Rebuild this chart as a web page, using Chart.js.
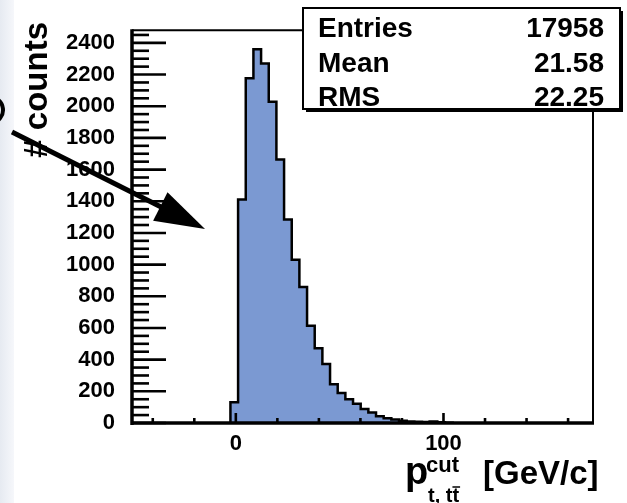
<!DOCTYPE html>
<html>
<head>
<meta charset="utf-8">
<script src="https://cdn.jsdelivr.net/npm/chart.js@4.4.1/dist/chart.umd.min.js"></script>
<style>
  html, body { margin: 0; padding: 0; background: #fff; }
  #wrap { width: 627px; height: 503px; }
</style>
</head>
<body>
<div id="wrap"><canvas id="hist" width="627" height="503"></canvas></div>
<script>
// --- histogram: p_t cut of the t-tbar system [GeV/c] ---
const binLow = -2.6;
const binWidth = 3.69;
const binCounts = [131, 1411, 2177, 2360, 2270, 2028, 1663, 1285, 1030, 858,
                   614, 472, 372, 245, 190, 150, 122, 89, 66, 42,
                   30, 22, 14, 10, 8, 6, 10, 4, 2];

// --- axes ---
const xRange = [-50, 172];
const yRange = [0, 2480];
const xLabeled = [0, 100];
const yLabelStep = 200;

// --- stats box ---
const statNames = ['Entries', 'Mean', 'RMS'];
const statValues = ['17958', '21.58', '22.25'];

const FONT = "'Liberation Sans', Arial, sans-serif";

// step outline built from the bins (left edge of each bin)
const stepPoints = [{ x: binLow, y: 0 }];
binCounts.forEach((c, i) => stepPoints.push({ x: binLow + i * binWidth, y: c }));
stepPoints.push({ x: binLow + binCounts.length * binWidth, y: 0 });

function isLabeledX(v) {
    return xLabeled.some(l => Math.abs(l - v) < 1e-6);
}

function line(ctx, x1, y1, x2, y2) {
    ctx.beginPath();
    ctx.moveTo(x1, y1);
    ctx.lineTo(x2, y2);
    ctx.stroke();
}

const rootStyle = {
    id: 'rootStyle',
    beforeDraw(chart) {
        const ctx = chart.ctx;
        ctx.save();
        ctx.fillStyle = '#fff';
        ctx.fillRect(0, 0, chart.width, chart.height);
        // slide background on the left edge
        const g = ctx.createLinearGradient(0, 0, 16, 0);
        g.addColorStop(0, '#e6eaf1');
        g.addColorStop(1, '#f8f9fc');
        ctx.fillStyle = g;
        ctx.fillRect(0, 0, 14, chart.height);
        ctx.restore();
    },
    afterDatasetsDraw(chart) {
        const ctx = chart.ctx;
        const { left, right, top, bottom } = chart.chartArea;
        const xs = chart.scales.x, ys = chart.scales.y;
        ctx.save();
        ctx.strokeStyle = '#000';
        ctx.lineCap = 'butt';

        // frame top + right
        ctx.lineWidth = 2;
        line(ctx, left, top, right, top);
        line(ctx, right, top, right, bottom);

        // ticks (inside the frame)
        ctx.lineWidth = 2.6;
        ys.ticks.forEach(t => {
            const y = ys.getPixelForValue(t.value);
            const len = t.value % yLabelStep === 0 ? 34 : 17;
            line(ctx, left, y, left + len, y);
        });
        xs.ticks.forEach(t => {
            const x = xs.getPixelForValue(t.value);
            const len = isLabeledX(t.value) ? 10 : 5;
            line(ctx, x, bottom, x, bottom - len);
        });

        // axis lines
        ctx.lineWidth = 3.5;
        line(ctx, left, top - 1, left, bottom + 2);
        line(ctx, left - 1, bottom, right + 1, bottom);
        ctx.restore();
    },
    afterDraw(chart) {
        const ctx = chart.ctx;
        ctx.save();

        // stats box with shadow
        const bx = 303, by = 8, bw = 317, bh = 101;
        ctx.fillStyle = '#000';
        ctx.fillRect(bx + 3, by + 3, bw, bh);
        ctx.fillStyle = '#fff';
        ctx.fillRect(bx, by, bw, bh);
        ctx.strokeStyle = '#000';
        ctx.lineWidth = 2;
        ctx.strokeRect(bx, by, bw, bh);
        ctx.fillStyle = '#000';
        ctx.font = 'bold 28px ' + FONT;
        ctx.textBaseline = 'alphabetic';
        statNames.forEach((name, i) => {
            const yb = 37 + i * 34.5;
            ctx.textAlign = 'left';
            ctx.fillText(name, 318, yb);
            ctx.textAlign = 'right';
            ctx.fillText(statValues[i], 604, yb);
        });

        // y title
        ctx.save();
        ctx.translate(47, 22);
        ctx.rotate(-Math.PI / 2);
        ctx.textAlign = 'right';
        ctx.font = 'bold 33px ' + FONT;
        ctx.fillText('# counts', 0, 0);
        ctx.restore();

        // x title
        ctx.textAlign = 'left';
        ctx.font = 'bold 38px ' + FONT;
        ctx.fillText('p', 405, 484);
        ctx.font = 'bold 22px ' + FONT;
        ctx.fillText('cut', 426, 472);
        ctx.font = 'bold 20px ' + FONT;
        ctx.fillText('t, t', 428, 502);
        const wTT = ctx.measureText('t, t').width;
        const wT = ctx.measureText('t').width;
        ctx.fillText('t', 428 + wTT, 502);
        ctx.lineWidth = 1.5;
        line(ctx, 428 + wTT, 487, 428 + wTT + wT + 1, 487);
        ctx.font = 'bold 33px ' + FONT;
        ctx.fillText('[GeV/c]', 483, 484);

        // slide arrow
        const tail = [12, 132], tip = [205, 229];
        const dx = tip[0] - tail[0], dy = tip[1] - tail[1];
        const L = Math.hypot(dx, dy), ux = dx / L, uy = dy / L;
        const headLen = 50, halfW = 16;
        const bxm = tip[0] - ux * headLen, bym = tip[1] - uy * headLen;
        ctx.lineWidth = 5;
        line(ctx, tail[0], tail[1], bxm + ux * 2, bym + uy * 2);
        ctx.beginPath();
        ctx.moveTo(tip[0], tip[1]);
        ctx.lineTo(bxm - uy * halfW, bym + ux * halfW);
        ctx.lineTo(bxm + uy * halfW, bym - ux * halfW);
        ctx.closePath();
        ctx.fill();

        // partial letter at the left border of the slide
        ctx.lineWidth = 4;
        ctx.beginPath();
        ctx.arc(-10, 110, 13, -0.9, 0.9);
        ctx.stroke();

        ctx.restore();
    }
};

new Chart(document.getElementById('hist').getContext('2d'), {
    type: 'line',
    data: {
        datasets: [{
            data: stepPoints,
            stepped: true,
            fill: 'origin',
            backgroundColor: '#7b99d2',
            borderColor: '#000',
            borderWidth: 2.5,
            pointRadius: 0,
            tension: 0
        }]
    },
    options: {
        responsive: false,
        animation: false,
        events: [],
        layout: { padding: { top: 13, right: 34, left: 0, bottom: 0 } },
        plugins: { legend: { display: false }, tooltip: { enabled: false }, title: { display: false } },
        scales: {
            x: {
                type: 'linear',
                min: xRange[0],
                max: xRange[1],
                grid: { display: false, drawTicks: false },
                border: { display: false },
                ticks: {
                    stepSize: 20,
                    includeBounds: false,
                    autoSkip: false,
                    maxRotation: 0,
                    padding: 8,
                    color: '#000',
                    font: { family: FONT, size: 22, weight: 'bold' },
                    callback: v => isLabeledX(v) ? String(Math.round(v)) : ''
                },
                afterFit: s => { s.height = 80; }
            },
            y: {
                type: 'linear',
                min: yRange[0],
                max: yRange[1],
                grid: { display: false, drawTicks: false },
                border: { display: false },
                ticks: {
                    stepSize: 50,
                    includeBounds: false,
                    autoSkip: false,
                    padding: 17,
                    color: '#000',
                    font: { family: FONT, size: 22, weight: 'bold' },
                    callback: v => v % yLabelStep === 0 ? String(v) : ''
                },
                afterFit: s => { s.width = 132; }
            }
        }
    },
    plugins: [rootStyle]
});
</script>
</body>
</html>
